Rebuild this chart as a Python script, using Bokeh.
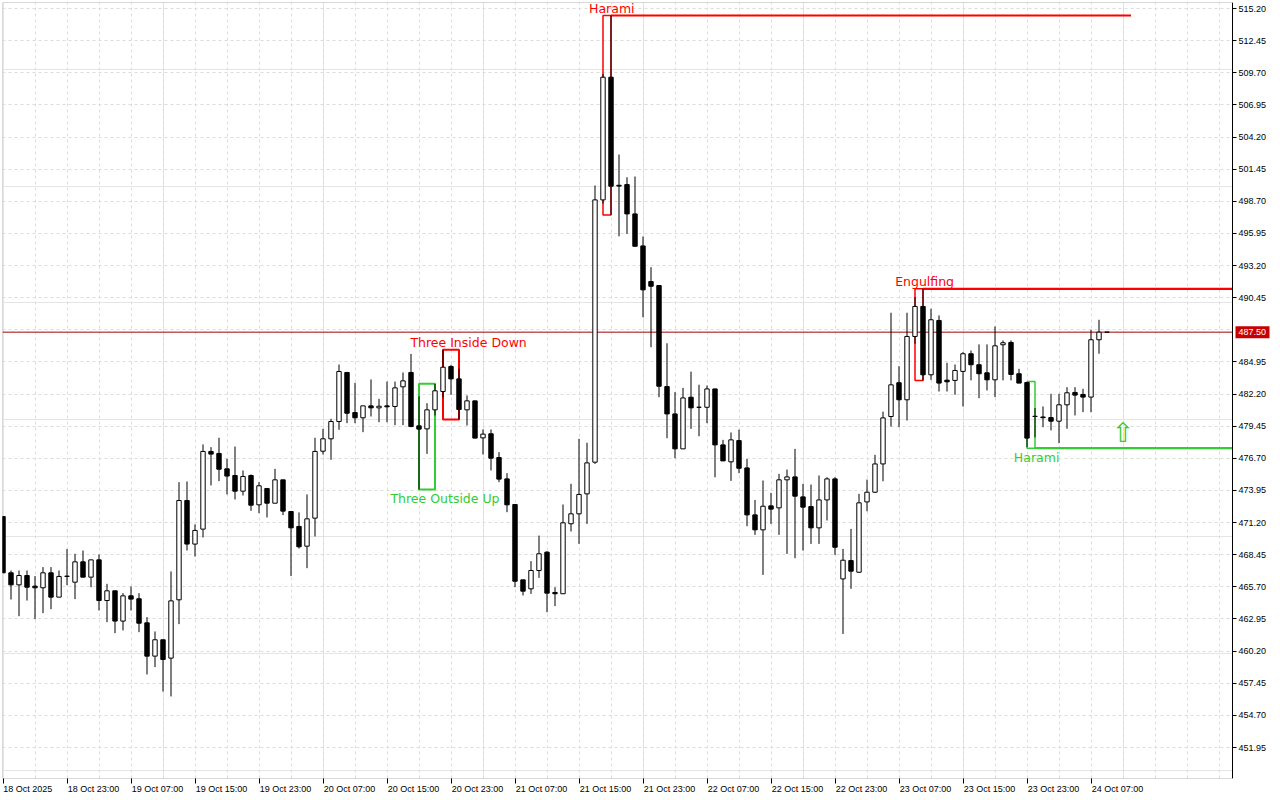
from bokeh.plotting import figure
from bokeh.models import (FixedTicker, Label, Range1d, ColumnDataSource, LinearAxis, Grid,
                          BoxAnnotation)
from bokeh.embed import file_html
from bokeh.resources import INLINE

# ---------------- data (hourly candles, bar index 0 = 18 Oct 2025 15:00) ----------------
opens = [471.72, 466.90, 465.87, 466.67, 465.76, 465.62, 466.90, 464.82, 466.59, 466.10,
         467.84, 466.53, 468.01, 464.53, 465.36, 462.77, 464.93, 464.68, 462.62, 459.77,
         461.17, 459.60, 464.59, 473.09, 469.36, 470.64, 477.29, 477.12, 475.80, 475.23,
         473.89, 475.23, 472.72, 474.12, 472.86, 474.86, 472.15, 470.87, 469.18, 471.58,
         477.31, 478.37, 479.85, 484.05, 480.62, 480.17, 481.19, 481.02, 481.19, 481.14,
         482.82, 484.05, 479.48, 479.22, 480.85, 482.42, 484.56, 483.50, 480.85, 481.62,
         478.45, 478.80, 476.77, 474.94, 472.75, 466.30, 465.53, 467.10, 468.67, 465.22,
         465.11, 471.10, 471.95, 473.66, 476.37, 498.82, 509.32, 500.07, 500.13, 497.62,
         494.88, 491.83, 491.49, 482.84, 480.50, 477.51, 481.93, 481.07, 481.07, 482.64,
         477.85, 476.40, 478.22, 475.88, 471.86, 470.58, 472.63, 472.46, 474.86, 475.11,
         473.40, 472.57, 470.75, 473.14, 474.94, 466.38, 467.95, 466.95, 472.97, 473.80,
         476.22, 480.28, 483.17, 481.71, 487.13, 489.70, 483.85, 488.50, 483.39, 483.37,
         484.14, 485.65, 484.71, 484.02, 483.42, 486.42, 486.62, 483.94, 483.19, 480.30,
         480.24, 480.19, 479.88, 481.28, 482.34, 482.17, 481.94, 486.85, 487.50]
highs = [471.72, 467.10, 467.10, 467.10, 466.62, 467.39, 467.39, 467.10, 468.93, 468.53,
         468.81, 468.01, 468.47, 465.96, 465.36, 465.16, 465.73, 465.16, 463.11, 461.88,
         461.17, 467.02, 474.66, 474.72, 471.04, 477.89, 477.66, 478.46, 476.66, 477.71,
         475.66, 475.32, 474.66, 474.12, 475.80, 474.86, 472.15, 472.07, 473.61, 478.46,
         479.22, 480.08, 484.73, 484.05, 483.16, 481.19, 483.45, 481.79, 483.27, 483.27,
         484.05, 485.64, 482.00, 481.42, 483.08, 486.00, 484.70, 484.36, 482.08, 481.62,
         479.17, 479.17, 477.23, 475.43, 472.75, 466.30, 467.90, 470.09, 468.75, 465.67,
         472.75, 474.52, 478.37, 478.03, 500.05, 509.60, 514.60, 502.70, 500.76, 500.82,
         495.68, 493.06, 491.49, 486.55, 482.36, 482.73, 484.12, 483.00, 482.93, 482.64,
         478.28, 478.91, 479.16, 476.65, 473.14, 474.80, 473.74, 475.37, 475.74, 477.51,
         474.51, 474.46, 475.23, 475.08, 475.08, 468.95, 470.66, 473.66, 474.88, 477.00,
         480.70, 489.16, 484.59, 489.16, 490.50, 491.21, 489.50, 488.93, 484.88, 484.73,
         485.79, 485.93, 486.45, 486.45, 487.99, 486.79, 486.79, 484.36, 483.19, 481.00,
         481.14, 482.22, 482.22, 482.79, 482.79, 482.65, 487.70, 488.56, 487.50]
lows = [466.90, 464.62, 463.19, 464.53, 462.94, 463.45, 463.79, 464.82, 465.85, 464.65,
        466.53, 465.67, 463.68, 462.68, 461.74, 461.97, 463.68, 461.82, 458.20, 458.83,
        456.74, 456.32, 462.51, 468.81, 468.30, 469.93, 474.38, 474.75, 473.61, 473.18,
        473.52, 472.21, 472.01, 471.64, 472.86, 471.84, 466.62, 468.98, 467.30, 470.01,
        477.03, 476.57, 479.14, 479.71, 479.71, 478.94, 480.28, 479.79, 479.79, 479.54,
        479.54, 479.37, 474.03, 477.08, 480.37, 481.90, 482.13, 480.02, 479.51, 478.43,
        477.03, 475.66, 474.66, 472.09, 465.67, 464.96, 465.10, 466.47, 463.53, 464.05,
        465.11, 470.44, 469.38, 471.09, 476.22, 498.50, 497.53, 495.70, 495.91, 494.85,
        488.78, 486.21, 481.93, 478.42, 476.71, 477.51, 479.22, 478.59, 479.71, 475.08,
        476.48, 474.77, 475.43, 470.89, 470.15, 466.72, 471.09, 470.15, 468.52, 468.15,
        468.81, 469.38, 469.38, 471.38, 468.44, 461.67, 465.53, 466.90, 472.17, 473.74,
        474.74, 479.42, 479.37, 479.94, 486.50, 483.37, 483.42, 482.42, 482.42, 482.14,
        481.14, 483.37, 481.85, 482.51, 481.94, 483.37, 483.37, 483.14, 477.66, 478.50,
        479.37, 479.09, 478.00, 479.23, 480.37, 480.65, 480.65, 485.65, 487.50]
closes = [466.90, 465.87, 466.67, 465.67, 465.62, 466.90, 464.82, 466.59, 466.62, 467.84,
          466.53, 468.01, 464.53, 465.36, 462.77, 464.93, 464.65, 462.59, 459.77, 461.17,
          459.48, 464.50, 473.09, 469.36, 470.53, 477.29, 477.06, 475.77, 475.18, 473.89,
          475.15, 472.69, 474.35, 472.86, 474.86, 472.18, 470.75, 469.13, 471.52, 477.29,
          478.37, 479.85, 484.13, 480.56, 480.17, 481.19, 481.02, 481.16, 481.11, 482.73,
          483.33, 479.42, 479.20, 480.85, 482.48, 484.50, 483.50, 480.88, 481.62, 478.43,
          478.77, 476.71, 474.92, 472.72, 466.18, 465.33, 467.10, 468.53, 465.16, 465.11,
          471.18, 471.95, 473.61, 476.31, 498.82, 509.32, 499.99, 500.00, 497.62, 494.85,
          491.12, 491.43, 482.87, 480.50, 477.51, 481.87, 481.02, 481.07, 482.64, 477.85,
          476.48, 478.28, 475.85, 471.86, 470.58, 472.60, 472.35, 474.86, 475.11, 473.46,
          472.52, 470.75, 473.14, 474.94, 469.09, 467.98, 467.04, 472.89, 473.80, 476.22,
          480.16, 482.99, 481.71, 487.13, 489.70, 483.85, 488.56, 483.14, 483.25, 484.22,
          485.65, 484.71, 483.94, 483.42, 486.33, 486.59, 483.88, 483.14, 478.43, 480.28,
          480.18, 479.88, 481.28, 482.31, 482.11, 481.94, 486.85, 487.50, 487.50]

x_tick_bars = [0, 8, 16, 24, 32, 40, 48, 56, 64, 72, 80, 88, 96, 104, 112, 120, 128, 136]
x_tick_labels = ["18 Oct 2025", "18 Oct 23:00", "19 Oct 07:00", "19 Oct 15:00", "19 Oct 23:00",
                 "20 Oct 07:00", "20 Oct 15:00", "20 Oct 23:00", "21 Oct 07:00", "21 Oct 15:00",
                 "21 Oct 23:00", "22 Oct 07:00", "22 Oct 15:00", "22 Oct 23:00", "23 Oct 07:00",
                 "23 Oct 15:00", "23 Oct 23:00", "24 Oct 07:00"]
y_tick_labels = ["515.20", "512.45", "509.70", "506.95", "504.20", "501.45", "498.70", "495.95",
                 "493.20", "490.45", "487.70", "484.95", "482.20", "479.45", "476.70", "473.95",
                 "471.20", "468.45", "465.70", "462.95", "460.20", "457.45", "454.70", "451.95"]
current_price = 487.50
current_price_text = "487.50"

pattern_names = ["Three Outside Up", "Three Inside Down", "Harami", "Engulfing", "Harami"]
pattern_start = [52, 55, 75, 114, 128]
pattern_end = [54, 57, 76, 115, 129]
pattern_high = [483.08, 486.00, 514.60, 491.21, 483.28]
pattern_low = [474.03, 480.02, 497.53, 483.37, 477.57]
pattern_bullish = [True, False, False, False, True]

level_price = [514.60, 491.21, 477.57]
level_start = [76, 115, 129]
level_end = [141, None, None]          # None = to the price axis
level_bullish = [False, False, True]

signal_bar = 140
signal_price = 478.90

# ---------------- layout ----------------
W, H = 1280, 800
LEFT, TOP, BOTTOM = 2, 2, 22
AXIS_PX = 1232                      # x pixel of the price axis
BAR_PX = 8.0
x_start = -0.0625
x_axis = x_start + (AXIS_PX - LEFT) / BAR_PX     # price axis position (in bars)
x_end = x_start + (W - LEFT) / BAR_PX            # the frame runs under the price scale
y_hi = 515.714
y_lo = 449.297
PX_PER_UNIT = (H - TOP - BOTTOM) / (y_hi - y_lo)

RED = "#ff0000"
GREEN = "#32cd32"
TAG_RED = "#c80000"
GRID = "#dcdcdc"
AXIS_FONT = "Liberation Sans"
PAT_FONT = "DejaVu Sans"

p = figure(width=W, height=H, output_backend="svg", toolbar_location=None,
           x_range=Range1d(x_start, x_end), y_range=Range1d(y_lo, y_hi),
           y_axis_location=None, x_axis_location=None,
           min_border_left=LEFT, min_border_top=TOP,
           min_border_right=0, min_border_bottom=BOTTOM,
           background_fill_color="white", border_fill_color="white")
p.outline_line_color = None

# grids
y_ticks = [float(s) for s in y_tick_labels]
hgrid = Grid(dimension=1, ticker=FixedTicker(ticks=y_ticks),
             grid_line_color=GRID, grid_line_dash="3 3", grid_line_width=1)
vgrid = Grid(dimension=0, ticker=FixedTicker(ticks=list(range(4, 154, 4))),
             grid_line_color=GRID, grid_line_dash="3 3", grid_line_width=1)
p.add_layout(hgrid)
p.add_layout(vgrid)

# white price-scale area (covers the grid right of the axis)
p.quad(left=[x_axis], right=[x_end], top=[y_hi], bottom=[y_lo],
       fill_color="white", line_color=None)

# chart border
p.add_layout(BoxAnnotation(left=x_start, right=x_axis, top=y_hi, bottom=y_lo,
                           fill_color=None, line_color="black", line_width=1))

# price axis (fixed at the right edge of the chart area)
axis_ticks = [t for t in y_ticks if abs(t - current_price) > 0.5]
yaxis = LinearAxis(fixed_location=x_axis, ticker=FixedTicker(ticks=axis_ticks),
                   major_label_overrides={t: s for t, s in zip(y_ticks, y_tick_labels)
                                          if abs(t - current_price) > 0.5},
                   major_label_text_font=AXIS_FONT, major_label_text_font_size="9px",
                   major_label_text_color="black", major_tick_out=4, major_tick_in=0,
                   minor_tick_line_color=None, major_label_standoff=2,
                   axis_line_color="black")
p.add_layout(yaxis, "right")

# x axis: tick marks at the label times ...
tick_axis = LinearAxis(ticker=FixedTicker(ticks=x_tick_bars),
                       major_label_overrides={t: "" for t in x_tick_bars},
                       major_label_text_font_size="1px", major_label_standoff=0,
                       major_tick_out=5, major_tick_in=0, minor_tick_line_color=None,
                       axis_line_color=None)
p.add_layout(tick_axis, "below")
# ... and the labels, which the terminal writes starting at the tick (left aligned)
half_w = [3.1] + [3.3] * (len(x_tick_bars) - 1)   # half label width, in bars
lab_pos = [b + h for b, h in zip(x_tick_bars, half_w)]
label_axis = LinearAxis(ticker=FixedTicker(ticks=lab_pos),
                        major_label_overrides={t: s for t, s in zip(lab_pos, x_tick_labels)},
                        major_label_text_font=AXIS_FONT, major_label_text_font_size="9px",
                        major_label_text_color="black", major_label_standoff=0,
                        major_tick_out=0, major_tick_in=0, minor_tick_line_color=None,
                        axis_line_color=None)
p.add_layout(label_axis, "below")

# pattern boxes
box_src = ColumnDataSource(dict(
    left=pattern_start, right=pattern_end, top=pattern_high, bottom=pattern_low,
    color=[GREEN if b else RED for b in pattern_bullish],
    lw=[2 if (e - s) >= 2 else 1.5 for s, e in zip(pattern_start, pattern_end)]))
p.quad(left="left", right="right", top="top", bottom="bottom", source=box_src,
       fill_color=None, line_color="color", line_width="lw")

# level lines
lvl_src = ColumnDataSource(dict(
    x0=level_start, x1=[e if e is not None else x_axis for e in level_end],
    y=level_price, color=[GREEN if b else RED for b in level_bullish]))
p.segment(x0="x0", x1="x1", y0="y", y1="y", source=lvl_src, line_color="color", line_width=2.2)

# current price line
p.segment(x0=[x_start], x1=[x_axis], y0=[current_price], y1=[current_price],
          line_color="#a00000", line_width=1)

# candles
idx = list(range(len(opens)))
src = ColumnDataSource(dict(
    x=idx, high=highs, low=lows,
    top=[max(o, c) for o, c in zip(opens, closes)],
    bottom=[min(o, c) for o, c in zip(opens, closes)],
    fill=["white" if c >= o else "black" for o, c in zip(opens, closes)]))
p.segment(x0="x", x1="x", y0="low", y1="high", source=src, line_color="black", line_width=1)
p.vbar(x="x", width=0.55, top="top", bottom="bottom", source=src,
       fill_color="fill", line_color="black", line_width=1)

# current price tag on the price scale
tag_half = 6.0 / PX_PER_UNIT
p.quad(left=[x_axis + 3.0 / BAR_PX], right=[x_axis + 37.0 / BAR_PX],
       top=[current_price + tag_half], bottom=[current_price - tag_half],
       fill_color=TAG_RED, line_color=None)
p.add_layout(Label(x=x_axis + 6.0 / BAR_PX, y=current_price, text=current_price_text,
                   text_align="left", text_baseline="middle",
                   text_font=AXIS_FONT, text_font_size="9px", text_color="white"))

# pattern labels
label_pos = [  # (x offset from pattern end bar, which box edge)
    (1.25, "low"), (1.2, "high"), (0.1, "high"), (0.2, "high"), (0.2, "low")]
for name, s, e, hi, lo, bull, (dx, edge) in zip(pattern_names, pattern_start, pattern_end,
                                                pattern_high, pattern_low, pattern_bullish, label_pos):
    if edge == "high":
        y = hi + 7.0 / PX_PER_UNIT
    else:
        y = lo - 9.0 / PX_PER_UNIT
    p.add_layout(Label(x=e + dx, y=y, text=name, text_align="center", text_baseline="middle",
                       text_font=PAT_FONT, text_font_size="12.5px",
                       text_color=GREEN if bull else RED))

# signal arrow
p.add_layout(Label(x=signal_bar, y=signal_price, text="\u21e7", text_align="center",
                   text_baseline="middle", text_font="DejaVu Sans",
                   text_font_size="27px", text_color=GREEN))

open("out.html", "w").write(file_html(p, INLINE))
